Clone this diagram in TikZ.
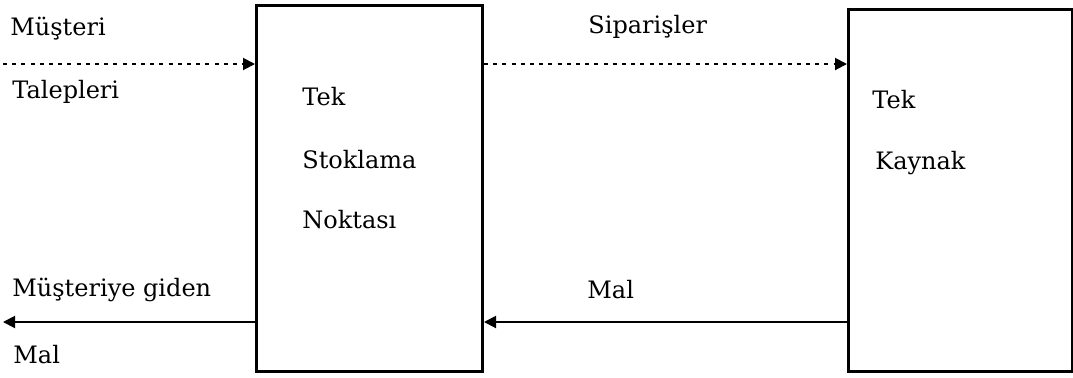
\documentclass[tikz,border=0pt]{standalone}
\usepackage{fontspec}
\setmainfont{DejaVu Serif}
\usetikzlibrary{arrows.meta,positioning}
\tikzset {>={Triangle[length=6pt,width=6pt]}}
\tikzset{
  blok/.style={draw,line width=1.5pt,anchor=north west,inner sep=0pt},
  etiket/.style={anchor=west,inner sep=0pt,font=\fontsize{12}{14}\selectfont},
  akis/.style={->,line width=1pt},
  bilgi/.style={->,line width=1pt,dash pattern=on 2pt off 2.6pt}
}

\begin{document}
\begin{tikzpicture}[x=0.5pt,y=-0.5pt]
\useasboundingbox (0,0) rectangle (1073,377);
\node[blok,minimum width=113pt,minimum height=183pt] (stok) at (255,4) {};
\node[blok,minimum width=112pt,minimum height=181pt] (kaynak) at (847,8) {};
\coordinate (talep) at (3,64);
\coordinate (cikis) at (3,322);
\draw[bilgi] (talep) -- (talep -| stok.west);
\draw[bilgi] (stok.east |- talep) -- (talep -| kaynak.west);
\draw[akis] (cikis -| kaynak.west) -- (cikis -| stok.east);
\draw[akis] (cikis -| stok.west) -- (cikis);
% etiketler
\node[etiket] (m1) at (10,29) {Müşteri};
\node[etiket] (m2) at (12,92) {Talepleri};
\node[etiket] (sp) at (588,27) {Siparişler};
\node[etiket] (s1) at (302,97) {Tek};
\node[etiket] (s2) at (302,160) {Stoklama};
\node[etiket] (s3) at (302,220) {Noktası};
\node[etiket] (k1) at (872,100) {Tek};
\node[etiket] (k2) at (875,163) {Kaynak};
\node[etiket] (g1) at (12,290) {Müşteriye giden};
\node[etiket] (g2) at (13,355) {Mal};
\node[etiket] (ml) at (587,290) {Mal};
\end{tikzpicture}
\end{document}
